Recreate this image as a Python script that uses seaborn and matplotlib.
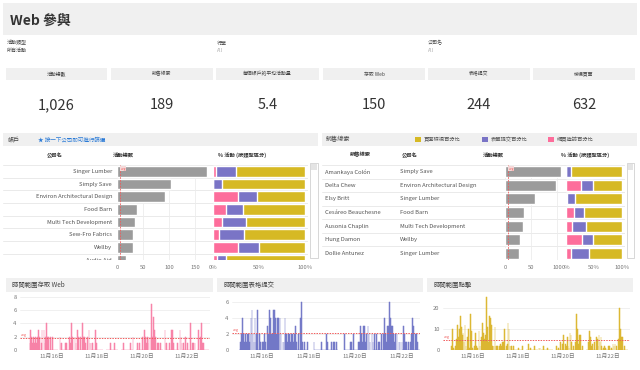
"""Web 參與 dashboard: KPI tiles, account / lead tables and hourly activity bars."""

import numpy as np
import pandas as pd
import matplotlib
matplotlib.use("Agg")
import matplotlib.pyplot as plt
from matplotlib.patches import Rectangle
import seaborn as sns

# ---------------------------------------------------------------------------
# Data
# ---------------------------------------------------------------------------
filter_labels = ["活動類型", "行業", "公司名"]
filter_values = ["所有活動", "All", "All"]

kpi_labels = ["活動總數", "銷售線索", "每個帳戶的平均活動量", "存取 Web", "表格提交", "檢視頁面"]
kpi_values = ["1,026", "189", "5.4", "150", "244", "632"]

account_names = ["Singer Lumber", "Simply Save", "Environ Architectural Design", "Food Barn",
                 "Multi Tech Development", "Sew-Fro Fabrics", "Wellby", "Audio Aid"]
account_totals = [174, 104, 93, 38, 34, 31, 31, 18]
account_web_pct = [3, 0, 27, 14, 10, 6, 27, 4]
account_form_pct = [22, 10, 21, 19, 26, 28, 23, 10]

lead_names = ["Amankaya Colón", "Delta Chew", "Elsy Britt", "Cesáreo Beauchesne",
              "Ausonia Chaplin", "Hung Damon", "Dollie Antunez"]
lead_companies = ["Simply Save", "Environ Architectural Design", "Singer Lumber", "Food Barn",
                  "Multi Tech Development", "Wellby", "Singer Lumber"]
lead_totals = [107, 98, 58, 37, 35, 29, 27]
lead_web_pct = [0, 27, 2, 14, 10, 28, 9]
lead_form_pct = [9, 21, 14, 18, 25, 20, 32]

avg_activity = 5.4

# hourly counts, hour 0 = 11月15日 00:00
web_hours = [0, 1, 2, 3, 4, 5, 6, 7, 8, 9, 10, 12, 13, 15, 16, 17, 18, 19, 20, 22,
             24, 32, 33, 34, 38, 39, 42, 43, 44, 45, 48, 49, 51, 52, 54, 56, 57, 58, 59, 61,
             63, 64, 65, 67, 70, 71, 86, 90, 100, 107, 110, 115, 117, 120, 122, 123, 124, 125, 126, 127,
             129, 130, 131, 132, 133, 134, 136, 137, 139, 144, 145, 146, 149, 151, 152, 153, 157, 160, 161, 162,
             164, 166, 168, 171, 173, 174, 176, 180, 182, 183, 184, 185]
web_counts = [1, 3, 2, 1, 2, 1, 2, 1, 2, 3, 2, 1, 3, 3, 1, 2, 4, 2, 2, 2,
              2, 2, 1, 1, 1, 1, 2, 1, 4, 2, 2, 1, 3, 2, 2, 4, 2, 2, 1, 2,
              3, 1, 1, 1, 3, 1, 1, 1, 1, 1, 2, 1, 1, 2, 3, 2, 1, 2, 1, 2,
              2, 7, 2, 5, 3, 2, 1, 1, 1, 3, 1, 1, 1, 3, 3, 1, 1, 3, 2, 1,
              1, 2, 1, 4, 1, 1, 1, 3, 2, 4, 1, 1]
web_avg = 1.8

form_hours = [1, 2, 3, 4, 5, 6, 7, 8, 9, 10, 11, 12, 13, 14, 15, 16, 17, 18, 19, 21,
              22, 24, 25, 26, 27, 29, 30, 31, 32, 33, 34, 35, 36, 37, 38, 39, 40, 41, 42, 43,
              45, 46, 47, 48, 49, 50, 51, 52, 53, 54, 55, 56, 57, 58, 59, 61, 63, 64, 65, 67,
              70, 77, 85, 90, 91, 95, 97, 98, 100, 109, 115, 116, 118, 123, 124, 125, 126, 127, 128, 129,
              130, 131, 133, 134, 135, 137, 138, 140, 142, 144, 145, 147, 149, 150, 151, 152, 153, 154, 155, 156,
              157, 158, 159, 160, 161, 163, 165, 166, 168, 170, 171, 172, 173, 175, 177, 178, 179, 180, 182, 183,
              184]
form_counts = [1, 2, 4, 2, 1, 2, 1, 2, 2, 1, 2, 4, 5, 2, 1, 4, 1, 2, 5, 2,
               1, 1, 1, 2, 1, 3, 2, 5, 4, 2, 2, 5, 5, 4, 2, 4, 4, 2, 4, 2,
               1, 1, 4, 2, 2, 1, 2, 2, 1, 2, 2, 1, 2, 3, 1, 2, 4, 6, 1, 1,
               1, 1, 1, 2, 1, 1, 1, 1, 1, 2, 1, 1, 2, 1, 1, 3, 2, 1, 3, 3,
               1, 2, 3, 2, 1, 2, 1, 2, 2, 1, 1, 2, 2, 4, 2, 1, 3, 3, 6, 4,
               3, 3, 2, 1, 2, 2, 1, 1, 1, 3, 2, 1, 1, 1, 1, 2, 4, 3, 2, 2,
               1]
form_avg = 2.1

view_hours = [1, 2, 3, 5, 6, 7, 8, 9, 10, 11, 12, 13, 14, 15, 16, 18, 19, 20, 21, 22,
              23, 25, 26, 27, 28, 30, 31, 33, 34, 35, 36, 37, 38, 39, 40, 41, 42, 43, 44, 45,
              46, 47, 48, 49, 50, 52, 53, 54, 55, 56, 57, 59, 60, 61, 62, 63, 64, 65, 67, 72,
              76, 83, 85, 89, 94, 95, 99, 103, 113, 115, 117, 119, 120, 122, 123, 124, 125, 126, 127, 128,
              129, 131, 133, 134, 135, 136, 137, 138, 140, 147, 148, 149, 150, 151, 153, 155, 156, 157, 158, 159,
              160, 161, 163, 164, 165, 168, 169, 171, 173, 174, 175, 177, 179, 180, 181, 182, 183, 185]
view_counts = [2, 10, 1, 2, 5, 12, 6, 10, 16, 11, 7, 8, 4, 12, 2, 6, 10, 1, 17, 9,
               1, 2, 8, 2, 1, 9, 2, 6, 13, 8, 5, 7, 25, 11, 4, 16, 15, 12, 2, 2,
               2, 11, 2, 2, 2, 2, 3, 2, 4, 4, 10, 2, 3, 13, 10, 2, 2, 2, 2, 1,
               2, 3, 1, 2, 1, 1, 2, 1, 2, 1, 4, 3, 7, 3, 2, 6, 2, 1, 8, 7,
               4, 2, 4, 17, 10, 3, 7, 7, 2, 4, 9, 6, 2, 3, 4, 6, 5, 2, 7, 4,
               6, 2, 1, 2, 1, 2, 2, 1, 3, 2, 3, 2, 5, 20, 10, 6, 6, 2]
view_avg = 4.7

date_ticks = [16, 18, 20, 22]
date_labels = ["11月16日", "11月18日", "11月20日", "11月22日"]

# ---------------------------------------------------------------------------
# Style
# ---------------------------------------------------------------------------
sns.set_theme(style="white")
plt.rcParams["font.family"] = ["Noto Sans CJK TC", "DejaVu Sans"]

GOLD = "#d6b924"
PURPLE = "#7a74c6"
PINK = "#fd6d9b"
GREY_BAR = "#9b9b9b"
PANEL = "#f0f0f0"
TXT = "#333333"
TXT_GREY = "#777777"
AVG_RED = "#f05a5a"

W, H = 640, 370
fig = plt.figure(figsize=(W / 100, H / 100), dpi=100)
fig.patch.set_facecolor("white")


def px_axes(x0, y0, x1, y1):
    return fig.add_axes([x0 / W, 1 - y1 / H, (x1 - x0) / W, (y1 - y0) / H])


def px_rect(x0, y0, x1, y1, face, edge="none", lw=0.6):
    fig.add_artist(Rectangle((x0 / W, 1 - y1 / H), (x1 - x0) / W, (y1 - y0) / H,
                             transform=fig.transFigure, facecolor=face, edgecolor=edge,
                             linewidth=lw, zorder=0))


def px_text(x, y, s, **kw):
    kw.setdefault("va", "center")
    fig.text(x / W, 1 - y / H, s, **kw)


# ---------------------------------------------------------------------------
# Header, filters, KPI tiles
# ---------------------------------------------------------------------------
px_rect(3, 3, 637, 35, PANEL)
px_text(10, 21, "Web 參與", fontsize=10, fontweight="bold", color=TXT)

for x, lab, val in zip([7, 217, 428], filter_labels, filter_values):
    px_text(x, 43, lab, fontsize=3.6, color="#444444")
    px_text(x, 50, val, fontsize=3.6, color="#444444" if val != "All" else "#aaaaaa")

kpi_x = [(6, 107), (111, 213), (216, 319), (323, 425), (428, 530), (533, 635)]
for (x0, x1), lab, val in zip(kpi_x, kpi_labels, kpi_values):
    px_rect(x0, 68, x1, 80, PANEL)
    px_text((x0 + x1) / 2, 74, lab, fontsize=3.5, ha="center", color="#444444")
    px_text((x0 + x1) / 2, 105, val, fontsize=10.5, ha="center", color=TXT)


# ---------------------------------------------------------------------------
# Tables
# ---------------------------------------------------------------------------
def row_background(box, n_show, labels):
    ax = px_axes(*box)
    ax.set_xlim(box[0], box[2])
    ax.set_ylim(n_show, -0.5)
    ax.axis("off")
    for i in range(len(labels[0][1]) + 1):
        ax.axhline(i - 0.5, color="#e6e6e6", lw=0.6)
    for x, names, ha in labels:
        for i, s in enumerate(names):
            ax.text(x, i, s, ha=ha, va="center", fontsize=4.2, color="#555555", clip_on=True)
    return ax


def total_bars(box, names, totals, xmax, n_show, ticks):
    ax = px_axes(*box)
    df = pd.DataFrame({"name": names, "total": totals})
    sns.barplot(data=df, x="total", y="name", color=GREY_BAR, saturation=1, width=0.82, ax=ax)
    ax.set_xlim(0, xmax)
    ax.set_ylim(n_show, -0.5)
    ax.patch.set_alpha(0)
    ax.set(xlabel="", ylabel="", yticks=[], xticks=ticks)
    ax.xaxis.grid(True, color="#ececec", lw=0.6)
    ax.set_axisbelow(True)
    sns.despine(ax=ax, left=True, bottom=True)
    ax.tick_params(axis="x", length=0, labelsize=4.2, colors=TXT_GREY, pad=3.5)
    ax.axvline(avg_activity, color=AVG_RED, ls=(0, (2, 1.5)), lw=0.6)
    ax.text(avg_activity + 1, -0.38, "avg", fontsize=2.4, color=AVG_RED, va="top",
            bbox=dict(boxstyle="square,pad=0.15", fc="#f4d8d8", ec="none"))
    return ax


def pct_bars(box, names, web_pct, form_pct, n_show):
    ax = px_axes(*box)
    df = pd.DataFrame({"name": names, "web": web_pct,
                       "web_form": np.add(web_pct, form_pct), "all": 100})
    for col, c in [("all", GOLD), ("web_form", PURPLE), ("web", PINK)]:
        sns.barplot(data=df, x=col, y="name", color=c, saturation=1, width=0.82, ax=ax)
    ax.set_xlim(0, 100)
    ax.set_ylim(n_show, -0.5)
    ax.patch.set_alpha(0)
    ax.set(xlabel="", ylabel="", yticks=[], xticks=[0, 50, 100])
    ax.set_xticklabels(["0%", "50%", "100%"])
    sns.despine(ax=ax, left=True, bottom=True)
    ax.tick_params(axis="x", length=0, labelsize=4.2, colors=TXT_GREY, pad=3.5)
    return ax


def scrollbar(x0, x1):
    px_rect(x0, 163, x1, 258, "white", edge="#c8c8c8", lw=0.5)
    px_rect(x0 + 1, 164, x1 - 1, 170, "#e4e4e4")


# left: accounts
px_rect(3, 133, 318, 146, PANEL)
px_text(8, 139.5, "帳戶", fontsize=4.4, color="#444444")
px_text(38, 139.5, "★ 按一下公司即可進行篩選", fontsize=4.0, color="#2a7ad6")
px_text(55, 155, "公司名", fontsize=3.8, ha="center", fontweight="bold", color=TXT)
px_text(113, 155, "活動總數", fontsize=3.8, fontweight="bold", color=TXT)
px_text(242, 155, "% 活動 (按類型區分)", fontsize=3.8, ha="center", fontweight="bold", color=TXT)

row_background((3, 165, 308, 260), 7.0, [(112, account_names, "right")])
total_bars((117, 165, 208, 260), account_names, account_totals, 175, 7.0, [0, 50, 100, 150])
pct_bars((213, 165, 305, 260), account_names, account_web_pct, account_form_pct, 7.0)
scrollbar(310, 318)

# right: leads
px_rect(322, 133, 637, 146, PANEL)
px_text(326, 139.5, "銷售線索", fontsize=4.4, color="#444444")
for x, c, lab in [(415, GOLD, "頁面檢視百分比"), (482, PURPLE, "表單提交百分比"), (548, PINK, "網頁造訪百分比")]:
    px_rect(x, 137, x + 6, 142.5, c)
    px_text(x + 9, 139.5, lab, fontsize=3.8, color="#555555")
px_text(360, 155, "銷售線索", fontsize=3.8, ha="center", fontweight="bold", color=TXT)
px_text(402, 155, "公司名", fontsize=3.8, fontweight="bold", color=TXT)
px_text(493, 155, "活動總數", fontsize=3.8, ha="center", fontweight="bold", color=TXT)
px_text(585, 155, "% 活動 (按類型區分)", fontsize=3.8, ha="center", fontweight="bold", color=TXT)

row_background((322, 165, 625, 260), 6.5, [(325, lead_names, "left"), (400, lead_companies, "left")])
total_bars((505, 165, 564, 260), lead_names, lead_totals, 113.5, 6.5, [0, 50, 100])
pct_bars((566, 165, 622, 260), lead_names, lead_web_pct, lead_form_pct, 6.5)
scrollbar(627, 634)


# ---------------------------------------------------------------------------
# Hourly time series
# ---------------------------------------------------------------------------
def hourly_bars(title, tbox, box, hours, counts, color, yticks, ymax, avg, xlim):
    px_rect(tbox[0], 278, tbox[1], 292, PANEL)
    px_text(tbox[0] + 6, 285, title, fontsize=4.6, color="#444444")
    ax = px_axes(*box)
    days = 15 + np.asarray(hours) / 24 + 1 / 48
    sns.histplot(x=days, weights=counts, binwidth=1 / 24, binrange=(15, 23),
                 color=color, alpha=0.9, edgecolor=color, linewidth=0.35, shrink=0.8, ax=ax)
    ax.set_xlim(*xlim)
    ax.set_ylim(0, ymax)
    ax.set(xlabel="", ylabel="", yticks=yticks, xticks=date_ticks)
    ax.set_xticklabels(date_labels)
    ax.yaxis.grid(True, color="#eeeeee", lw=0.6)
    ax.set_axisbelow(True)
    sns.despine(ax=ax, left=True, bottom=True)
    ax.tick_params(length=0, labelsize=4.2, colors=TXT_GREY, pad=2.5)
    ax.axhline(avg, color=AVG_RED, ls=(0, (1.5, 1.2)), lw=0.7)
    ax.text(xlim[0] + 0.05, avg + ymax * 0.02, "avg", fontsize=2.6, color=AVG_RED, va="bottom")
    return ax


hourly_bars("時間範圍存取 Web", (6, 213), (20, 293, 210, 350), web_hours, web_counts,
            "#f77fa5", [0, 2, 4, 6, 8], 8.6, web_avg, (14.58, 23.02))
hourly_bars("時間範圍表格提交", (217, 423), (232, 293, 420, 350), form_hours, form_counts,
            "#6f75c6", [0, 2, 4, 6], 7.1, form_avg, (14.70, 22.80))
hourly_bars("時間範圍點擊", (427, 633), (443, 293, 630, 350), view_hours, view_counts,
            "#dbb52b", [0, 10, 20], 27, view_avg, (14.67, 22.98))

fig.savefig("out.png", dpi=100, facecolor="white")
plt.close(fig)
